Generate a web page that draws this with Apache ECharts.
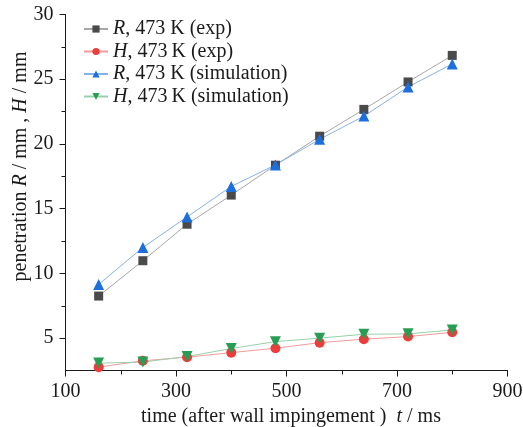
<!DOCTYPE html>
<html>
<head>
<meta charset="utf-8">
<script src="https://cdn.jsdelivr.net/npm/echarts@6/dist/echarts.min.js"></script>
<style>
  html, body { margin: 0; padding: 0; background: #fff; }
  #chart { width: 523px; height: 427px; }
</style>
</head>
<body>
<div id="chart"></div>
<script>
// time after wall impingement (ms)
const times = [160, 240, 320, 400, 480, 560, 640, 720, 800];
const rExp = [8.25, 10.98, 13.8, 16.05, 18.36, 20.6, 22.67, 24.79, 26.84];
const hExp = [2.76, 3.25, 3.53, 3.88, 4.22, 4.65, 4.92, 5.12, 5.45];
const rSim = [9.15, 12.0, 14.36, 16.72, 18.38, 20.36, 22.15, 24.4, 26.18];
const hSim = [3.07, 3.15, 3.58, 4.2, 4.73, 5.0, 5.3, 5.33, 5.63];

const yMajor = [5, 10, 15, 20, 25, 30];
const yMinor = [7.5, 12.5, 17.5, 22.5, 27.5];

const font = 'Liberation Serif';
const fs = 20;
const txt = '#1a1a1a';
const pairs = vals => times.map((t, i) => [t, vals[i]]);

const myChart = echarts.init(document.getElementById('chart'));

const plain = { fontStyle: 'normal', fontFamily: font, fontSize: fs, color: txt };
const italic = { fontStyle: 'italic', fontFamily: font, fontSize: fs, color: txt };

function makeSeries(name, vals, symbol, size, color, lineColor, rotate) {
  return {
    name: name,
    type: 'line',
    data: pairs(vals),
    symbol: symbol,
    symbolSize: size,
    symbolRotate: rotate || 0,
    itemStyle: { color: color },
    lineStyle: { color: lineColor, width: 1 },
    emphasis: { disabled: true },
    z: 3
  };
}

const option = {
  animation: false,
  textStyle: { fontFamily: font, fontSize: fs, color: txt },
  grid: { left: 65.5, right: 15.5, top: 14.5, bottom: 56.5, containLabel: false, outerBoundsMode: 'none' },
  legend: {
    orient: 'vertical',
    left: 78,
    top: 14,
    itemWidth: 24,
    itemHeight: 9,
    itemGap: 2.5,
    formatter: function (name) {
      return '{i|' + name.charAt(0) + '}{n|' + name.slice(1) + '}';
    },
    textStyle: {
      fontFamily: font,
      fontSize: fs,
      color: txt,
      rich: { i: italic, n: plain }
    }
  },
  xAxis: {
    type: 'value',
    min: 100,
    max: 900,
    interval: 200,
    name: '{n|time (after wall impingement )  }{i|t}{n| / ms}',
    nameLocation: 'middle',
    nameGap: 36,
    nameMoveOverlap: false,
    nameTextStyle: {
      fontFamily: font,
      fontSize: fs,
      color: txt,
      padding: [0, 0, 0, 9],
      rich: { i: italic, n: plain }
    },
    axisLine: { show: true, onZero: false, lineStyle: { color: txt, width: 1 } },
    axisTick: { show: true, inside: false, length: 6, lineStyle: { color: txt } },
    minorTick: { show: true, splitNumber: 2, length: 4, lineStyle: { color: txt } },
    splitLine: { show: false },
    axisLabel: { fontFamily: font, fontSize: fs, color: txt, margin: 11 }
  },
  yAxis: [
    {
      type: 'value',
      min: 2.5,
      max: 30,
      name: '{n|penetration }{i|R}{n| / mm , }{i|H}{n| / mm}',
      nameLocation: 'middle',
      nameRotate: 90,
      nameGap: 35,
      nameMoveOverlap: false,
      nameTextStyle: {
        fontFamily: font,
        fontSize: fs,
        color: txt,
        padding: [0, 0, 0, 52],
        rich: { i: italic, n: plain }
      },
      axisLine: { show: true, onZero: false, lineStyle: { color: txt, width: 1 } },
      axisTick: { show: true, inside: false, length: 6, customValues: yMajor, lineStyle: { color: txt } },
      splitLine: { show: false },
      axisLabel: { fontFamily: font, fontSize: fs, color: txt, margin: 12, customValues: yMajor }
    },
    {
      type: 'value',
      min: 2.5,
      max: 30,
      position: 'left',
      axisLine: { show: false },
      axisTick: { show: true, inside: false, length: 4, customValues: yMinor, lineStyle: { color: txt } },
      axisLabel: { show: false },
      splitLine: { show: false }
    }
  ],
  series: [
    makeSeries('R, 473 K (exp)', rExp, 'rect', 9, '#4a4a4a', '#a6a6a6'),
    makeSeries('H, 473\u2009K (exp)', hExp, 'circle', 10, '#ee3b3b', '#f29a9a'),
    makeSeries('R, 473 K (simulation)', rSim, 'triangle', 11, '#1c6fdc', '#86b1ea'),
    makeSeries('H, 473\u2009K (simulation)', hSim, 'triangle', 11, '#2a9d55', '#95d1aa', 180)
  ]
};

myChart.setOption(option);
window.addEventListener('resize', function () {
  myChart.resize();
});
</script>
</body>
</html>
